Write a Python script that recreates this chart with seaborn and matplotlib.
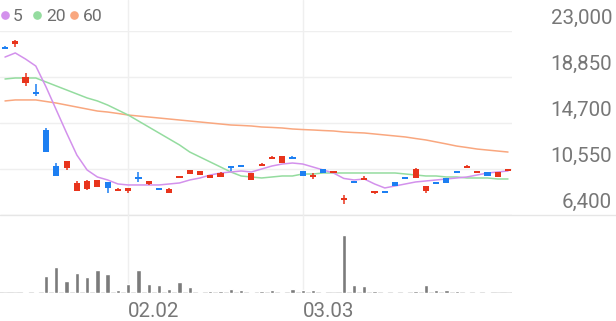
import numpy as np
import pandas as pd
import matplotlib
matplotlib.use("Agg")
import matplotlib.pyplot as plt
import matplotlib.transforms as mtransforms
import seaborn as sns

# ---------------- data ----------------
open_ = [21550, 21800, 18300, 17450, 14070, 10820, 10640, 8570, 8750, 8930,
         9380, 8570, 8660, 9780, 9200, 8750, 8390, 9780, 10100, 10010,
         9740, 9830, 10820, 10910, 9560, 10820, 11460, 11100, 11640, 10370,
         9830, 10550, 10190, 7800, 9470, 9560, 8420, 8570, 9380, 9830,
         9740, 8570, 9380, 9740, 10370, 10640, 10190, 10280, 9830, 10370]
close = [21450, 22100, 18850, 17380, 12090, 9920, 11270, 9290, 9470, 9560,
         8840, 8750, 8750, 9720, 9470, 8680, 8750, 9880, 10460, 10370,
         10010, 10190, 10640, 10740, 10190, 11000, 11640, 11720, 11460, 9920,
         10010, 10190, 10370, 7900, 9290, 9740, 8500, 8390, 9020, 9650,
         10550, 9020, 9200, 9290, 10190, 10820, 10370, 9920, 10280, 10550]
high = [21650, 22150, 19200, 18200, 14250, 11100, 11300, 9470, 9520, 9600,
        9400, 8800, 8760, 10280, 9500, 8800, 8800, 9900, 10500, 10400,
        10050, 10250, 10850, 10950, 10220, 11050, 11680, 11750, 11680, 10400,
        10190, 10580, 10400, 8210, 9500, 9900, 8510, 8600, 9400, 9850,
        10600, 9050, 9400, 9760, 10400, 10900, 10400, 10300, 10300, 10580]
low = [21450, 21550, 18050, 17150, 12050, 9900, 10460, 8560, 8700, 8900,
       8390, 8550, 8390, 9380, 9150, 8650, 8350, 9760, 10080, 9990,
       9720, 9800, 10370, 10720, 9540, 10800, 11440, 11080, 11440, 9900,
       9650, 10170, 10170, 7400, 9270, 9540, 8280, 8370, 9000, 9630,
       9720, 8390, 9180, 9270, 10170, 10620, 10170, 9900, 9810, 10350]
volume = [5, 5, 15, 10, 170, 260, 120, 200, 160, 230,
          190, 30, 90, 230, 90, 80, 40, 110, 60, 10,
          20, 20, 40, 30, 10, 20, 30, 10, 40, 30,
          30, 10, 3, 580, 80, 70, 20, 10, 10, 10,
          20, 80, 30, 30, 20, 10, 10, 10, 5, 3]
ma5 = [20650, 21020, 20470, 19840, 17950, 15870, 13800, 11810, 10460, 9830,
       9560, 9200, 9110, 9110, 9110, 9110, 9200, 9290, 9560, 9740,
       10010, 10190, 10280, 10370, 10280, 10550, 10820, 11000, 11090, 11000,
       10730, 10460, 10190, 9700, 9560, 9650, 9200, 8840, 9020, 9200,
       9380, 9470, 9560, 9650, 9740, 9830, 10010, 10190, 10280, 10370]
ma20 = [18670, 18760, 18760, 18760, 18400, 18040, 17680, 17320, 16960, 16690,
        16320, 15870, 15420, 14880, 14340, 13800, 13260, 12720, 12080, 11630,
        11180, 10730, 10280, 9920, 9830, 9740, 9830, 9920, 9920, 10100,
        10100, 10190, 10190, 10190, 10190, 10190, 10190, 10190, 10190, 10100,
        10010, 9920, 9920, 9830, 9830, 9740, 9740, 9740, 9650, 9650]
ma60 = [16690, 16780, 16780, 16780, 16640, 16500, 16320, 16140, 15960, 15780,
        15690, 15560, 15420, 15330, 15240, 15150, 15060, 14970, 14880, 14790,
        14700, 14610, 14520, 14480, 14430, 14340, 14300, 14250, 14160, 14110,
        14070, 14020, 13980, 13890, 13840, 13800, 13710, 13620, 13530, 13440,
        13300, 13170, 12990, 12810, 12620, 12490, 12350, 12260, 12170, 12080]
price_ticks = [6400, 10550, 14700, 18850, 23000]
date_labels = ["02.02", "03.03"]
date_idx = [12, 29]
ma_names = ["5", "20", "60"]

# ---------------- style ----------------
sns.set_style("white")
plt.rcParams['font.family'] = ['Roboto', 'DejaVu Sans']
TXT = '#777777'
RED = '#e8341c'
BLUE = '#1d7ff2'
MA_COLORS = ['#d391ec', '#94dc9f', '#f9a77f']
GRID = '#efefef'

W, H = 616, 321
fig = plt.figure(figsize=(W / 100, H / 100), dpi=100)
fig.patch.set_facecolor('white')

P_TOP, P_BOT, V_BOT, RIGHT = 31, 215, 293, 512
ax = fig.add_axes([0, 1 - P_BOT / H, RIGHT / W, (P_BOT - P_TOP) / H])
axv = fig.add_axes([0, 1 - V_BOT / H, RIGHT / W, (V_BOT - P_BOT) / H])

n = len(close)
idx = np.arange(n)
df = pd.DataFrame({'idx': idx, 'open': open_, 'close': close, 'high': high,
                   'low': low, 'volume': volume, 'ma5': ma5, 'ma20': ma20,
                   'ma60': ma60})

XLIM = (-0.487, 49.39)

# moving averages (drawn under candles)
for col, c in zip(['ma60', 'ma20', 'ma5'], MA_COLORS[::-1]):
    sns.lineplot(data=df, x='idx', y=col, ax=ax, color=c, lw=1.1, zorder=2)

# candles
for i, r in df.iterrows():
    up = r['close'] >= r['open']
    c = RED if up else BLUE
    ax.vlines(r['idx'], r['low'], r['high'], color=c, lw=1.1, zorder=3)
    mid = (r['open'] + r['close']) / 2
    h = max(abs(r['close'] - r['open']), 200)
    ax.bar(r['idx'], h, bottom=mid - h / 2, width=0.6, color=c, lw=0, zorder=4)

ax.set_xlim(*XLIM)
ax.set_ylim(6400, 23000)
ax.set_yticks(price_ticks)
ax.set_yticklabels([])
ax.tick_params(axis='both', length=0, labelleft=False, labelbottom=False)
ax.set_xticks([])
ax.grid(axis='y', color=GRID, lw=1)
ax.set_xlabel('')
ax.set_ylabel('')
for s in ax.spines.values():
    s.set_visible(False)
ax.set_facecolor('none')

# y labels sitting above their gridlines, right aligned
off = mtransforms.ScaledTranslation(0, 7 / 100, fig.dpi_scale_trans)
btr = mtransforms.blended_transform_factory(ax.transAxes, ax.transData) + off
for v in price_ticks:
    ax.text(612 / RIGHT, v, f"{v:,}", transform=btr, ha='right', va='baseline',
            fontsize=14.8, color=TXT, clip_on=False)

# bottom separator across full width
ax.axhline(6400, xmin=0, xmax=W / RIGHT, color='#e6e6e6', lw=1, clip_on=False, zorder=1)

# vertical date gridlines
for d in date_idx:
    ax.axvline(d, ymin=0, ymax=P_BOT / (P_BOT - P_TOP), color=GRID, lw=1,
               clip_on=False, zorder=0)
    axv.axvline(d, color=GRID, lw=1, zorder=0)

# volume
sns.barplot(data=df, x='idx', y='volume', ax=axv, native_scale=True,
            color='#7b7b7b', saturation=1, width=0.42, errorbar=None, zorder=3)
axv.set_xlim(*XLIM)
axv.set_ylim(0, 780)
axv.axhline(0, color='#dddddd', lw=1.2, zorder=2)
axv.set_xticks([])
axv.set_yticks([])
axv.set_xlabel('')
axv.set_ylabel('')
for s in axv.spines.values():
    s.set_visible(False)
axv.set_facecolor('none')

offx = mtransforms.ScaledTranslation(0, -24 / 100, fig.dpi_scale_trans)
for d, lab in zip(date_idx, date_labels):
    axv.text(d, 0, lab, transform=axv.transData + offx, ha='left',
             va='baseline', fontsize=14.8, color=TXT, clip_on=False)

# legend (dot + label)
leg_pos = [(5, 13), (37, 46), (74, 83)]
for (dx, tx), name, c in zip(leg_pos, ma_names, MA_COLORS):
    fig.lines.append(plt.Line2D([dx / W], [1 - 15 / H], transform=fig.transFigure,
                                marker='o', ms=5.2, color=c, lw=0))
    fig.text(tx / W, 1 - 20.7 / H, name, ha='left', va='baseline',
             fontsize=12.6, color='#6e6e6e')

fig.savefig('out.png', dpi=100, facecolor='white')
